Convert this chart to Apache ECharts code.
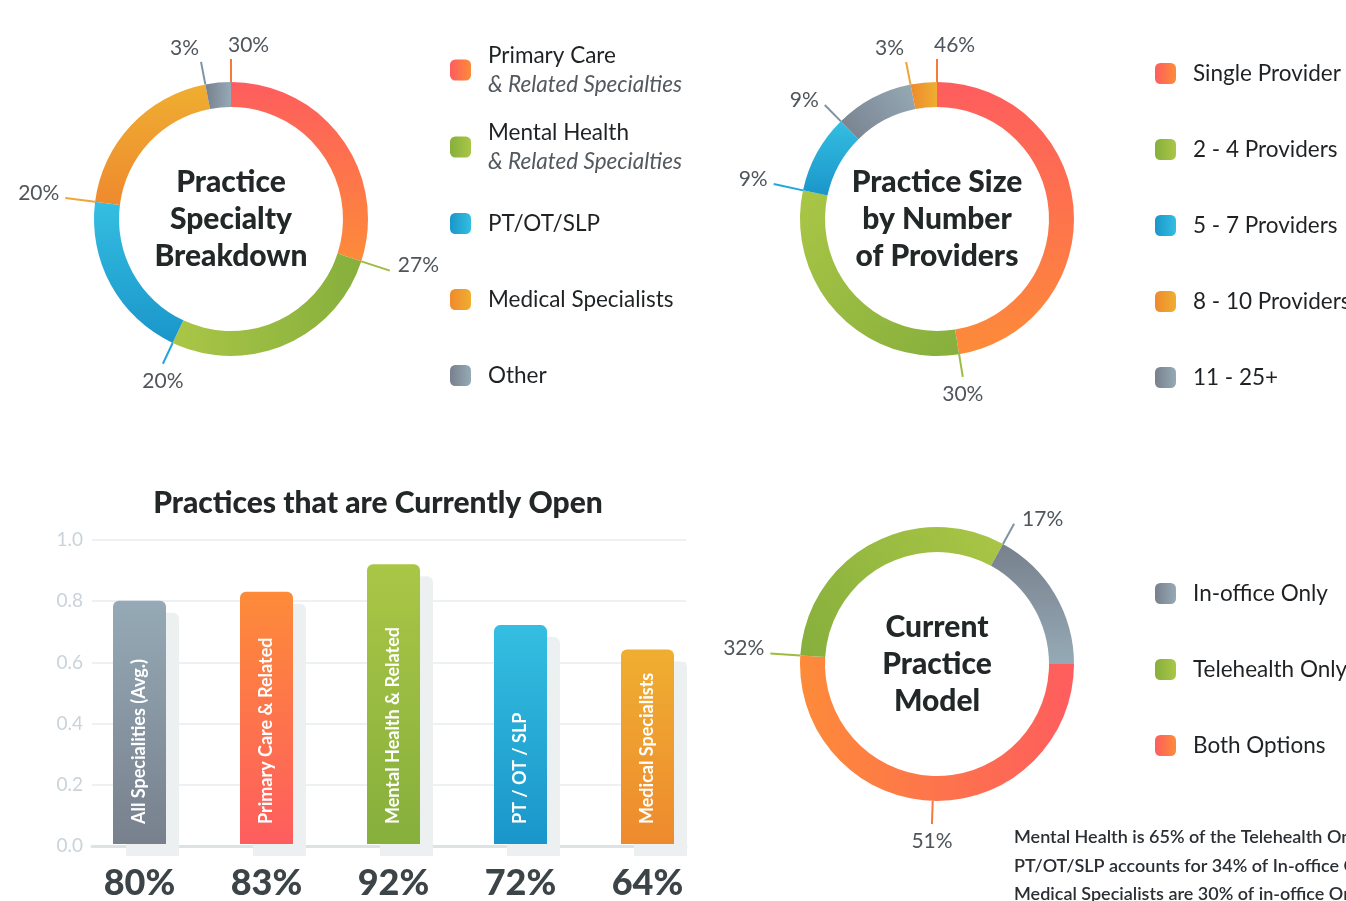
<!DOCTYPE html>
<html>
<head>
<meta charset="utf-8">
<title>Practice survey</title>
<script src="https://cdn.jsdelivr.net/npm/echarts@6/dist/echarts.min.js"></script>
<style>
  html, body { margin: 0; padding: 0; background: #fff; }
  #chart { width: 1346px; height: 901px; }
</style>
</head>
<body>
<div id="chart"></div>
<script>
// ---- data ----
const specialtyNames = ['Primary Care', 'Mental Health', 'PT/OT/SLP', 'Medical Specialists', 'Other'];
const specialtySubs = ['& Related Specialties', '& Related Specialties', '', '', ''];
const specialtyShare = [30, 27, 20, 20, 3];

// ring order (clockwise from top) differs from legend order
const sizeNames = ['Single Provider', '2 - 4 Providers', '5 - 7 Providers', '11 - 25+', '8 - 10 Providers'];
const sizeShare = [46, 30, 9, 9, 3];
const sizeLegend = ['Single Provider', '2 - 4 Providers', '5 - 7 Providers', '8 - 10 Providers', '11 - 25+'];

const modelNames = ['Both Options', 'Telehealth Only', 'In-office Only'];
const modelShare = [51, 32, 17];
const modelLegend = ['In-office Only', 'Telehealth Only', 'Both Options'];

const openCategories = ['All Specialities (Avg.)', 'Primary Care & Related', 'Mental Health & Related', 'PT / OT / SLP', 'Medical Specialists'];
const openShare = [0.80, 0.83, 0.92, 0.72, 0.64];
const yTicks = [0, 0.2, 0.4, 0.6, 0.8, 1.0];

const notes = [
  'Mental Health is 65% of the Telehealth Only',
  'PT/OT/SLP accounts for 34% of In-office Only',
  'Medical Specialists are 30% of in-office Only'
];

// ---- colours: [light, dark, label line] ----
const tones = {
  red:    ['#fe5d5e', '#fd8b39', '#f57a3c'],
  green:  ['#aac646', '#86af3c', '#9cbd40'],
  blue:   ['#34bee1', '#1a96ca', '#20a6d8'],
  orange: ['#efae31', '#ee8a2e', '#eea638'],
  gray:   ['#95aab6', '#78808d', '#7e94a2']
};
const specialtyTones = ['red', 'green', 'blue', 'orange', 'gray'];
const sizeTones = ['red', 'green', 'blue', 'gray', 'orange'];
const modelTones = ['red', 'green', 'gray'];
const openTones = ['gray', 'red', 'green', 'blue', 'orange'];

function grad(tone, d) {
  const t = tones[tone];
  return new echarts.graphic.LinearGradient(d[0], d[1], d[2], d[3], [
    { offset: 0, color: t[0] }, { offset: 1, color: t[1] }
  ]);
}

// legend swatches run left to right
const swatchDir = { red: [0, 0, 1, 0], green: [1, 0, 0, 0], blue: [1, 0, 0, 0], orange: [1, 0, 0, 0], gray: [1, 0, 0, 0] };

// labels sit on the slice edge (at = 0) or part way through it
function edgeLabels(cx, cy, r, startCw, values, at) {
  const total = values.reduce((s, v) => s + v, 0);
  return function (p) {
    const i = p.dataIndex;
    let acc = 0;
    for (let k = 0; k < i; k++) acc += values[k];
    const a = (startCw + (acc + values[i] * at[i]) / total * 360) * Math.PI / 180;
    const dx = Math.sin(a), dy = -Math.cos(a);
    const len = Math.abs(dx) > 0.95 ? 30 : 23;
    const p0 = [cx + dx * r, cy + dy * r];
    const p1 = [cx + dx * (r + len), cy + dy * (r + len)];
    let x, y, align, verticalAlign;
    if (dy < -0.9) {
      align = dx >= -0.05 ? 'left' : 'right';
      x = p1[0] + (align === 'left' ? -3 : -2);
      y = p1[1] - 3;
      verticalAlign = 'bottom';
    } else if (dy > 0.85) {
      align = 'center';
      x = p1[0];
      y = p1[1] + 7;
      verticalAlign = 'top';
    } else {
      align = dx > 0 ? 'left' : 'right';
      x = p1[0] + (dx > 0 ? 8 : -6);
      y = p1[1] - 5;
      verticalAlign = 'middle';
    }
    return { x, y, align, verticalAlign, labelLinePoints: [p0, p1, p1] };
  };
}

function ring(names, values, toneList, dirs, center, startAngle, at) {
  return {
    type: 'pie',
    center: center,
    radius: [112, 137],
    startAngle: startAngle,
    clockwise: true,
    silent: true,
    avoidLabelOverlap: false,
    label: { show: true, position: 'outside', formatter: '{c}%', fontSize: 21, color: '#4f555a' },
    labelLine: { show: true, length: 20, length2: 0, lineStyle: { width: 2 } },
    labelLayout: edgeLabels(center[0], center[1], 137, 90 - startAngle, values, at),
    data: names.map((n, i) => ({
      name: n,
      value: values[i],
      itemStyle: { color: grad(toneList[i], dirs[i]) },
      labelLine: { lineStyle: { color: tones[toneList[i]][2] } }
    }))
  };
}

function legendFor(order, names, toneList, subs, left, top, gap, pad) {
  const txt = { fontSize: 22.5, color: '#1f2224' };
  return {
    orient: 'vertical',
    left: left,
    top: top,
    padding: 0,
    itemGap: gap,
    itemWidth: 21,
    itemHeight: 21,
    icon: 'roundRect',
    selectedMode: false,
    data: order.map(n => {
      const tone = toneList[names.indexOf(n)];
      return { name: n, itemStyle: { color: grad(tone, swatchDir[tone]) } };
    }),
    formatter: n => {
      const i = names.indexOf(n);
      return subs && subs[i] ? '{a|' + n + '}\n{b|' + subs[i] + '}' : '{c|' + n + '}';
    },
    textStyle: {
      rich: {
        a: Object.assign({ padding: [5, 0, 3, 12] }, txt),
        b: Object.assign({ padding: [3, 0, 5, 12] }, txt, { fontStyle: 'italic', color: '#53595e' }),
        c: Object.assign({ lineHeight: 22, padding: [pad, 0, pad, 12] }, txt)
      }
    }
  };
}

const centerText = { fontFamily: 'Lato', fontSize: 30, fontWeight: 900, lineHeight: 37, color: '#222828' };

const chart = echarts.init(document.getElementById('chart'));

chart.setOption({
  animation: false,
  backgroundColor: '#fff',
  textStyle: { fontFamily: 'Lato' },
  title: [
    { text: 'Practice\nSpecialty\nBreakdown', left: 231, top: 219, textAlign: 'center', textVerticalAlign: 'middle', padding: 0, textStyle: centerText },
    { text: 'Practice Size\nby Number\nof Providers', left: 937, top: 219, textAlign: 'center', textVerticalAlign: 'middle', padding: 0, textStyle: centerText },
    { text: 'Current\nPractice\nModel', left: 937, top: 664, textAlign: 'center', textVerticalAlign: 'middle', padding: 0, textStyle: centerText },
    { text: 'Practices that are Currently Open', left: 378, top: 503, textAlign: 'center', textVerticalAlign: 'middle', padding: 0,
      textStyle: { fontFamily: 'Lato', fontSize: 30, fontWeight: 900, color: '#222828' } },
    { text: notes.join('\n'), left: 1014, top: 823, padding: 0,
      textStyle: { fontFamily: 'Lato', fontSize: 18, fontWeight: 600, lineHeight: 28.5, color: '#2b2f33' } }
  ],
  legend: [
    legendFor(specialtyNames, specialtyNames, specialtyTones, specialtySubs, 450, 44, 25, 14),
    legendFor(sizeLegend, sizeNames, sizeTones, null, 1155, 44, 17, 18),
    legendFor(modelLegend, modelNames, modelTones, null, 1155, 564, 17, 18)
  ],
  grid: [
    { left: 92, top: 540, width: 594, height: 306 },
    { left: 76, top: 540, width: 635, height: 306 }
  ],
  xAxis: [
    { gridIndex: 0, type: 'value', min: 0, max: 1,
      axisLine: { show: true, lineStyle: { color: '#dde2e5', width: 3 } },
      axisTick: { show: false }, axisLabel: { show: false }, splitLine: { show: false } },
    { gridIndex: 1, type: 'category', data: openCategories,
      axisLine: { show: false }, axisTick: { show: false },
      axisLabel: { formatter: (v, i) => Math.round(openShare[i] * 100) + '%', fontSize: 36, fontWeight: 900, color: '#3d4448', margin: 21 } }
  ],
  yAxis: [
    { gridIndex: 0, type: 'value', min: yTicks[0], max: yTicks[yTicks.length - 1], interval: yTicks[1] - yTicks[0],
      axisLine: { show: false }, axisTick: { show: false },
      axisLabel: { formatter: v => v.toFixed(1), color: '#c9d3d9', fontSize: 19, margin: 9 },
      splitLine: { lineStyle: { color: '#eef1f3', width: 2 } } },
    { gridIndex: 1, type: 'value', min: yTicks[0], max: yTicks[yTicks.length - 1], show: false }
  ],
  series: [
    ring(specialtyNames, specialtyShare, specialtyTones,
      [[0, 0, 0, 1], [0, 0, 1, 0], [0, 0, 0, 1], [0, 0, 0, 1], [1, 0, 0, 0]],
      [231, 219], 90, [0, 0, 0, 0, 0]),
    ring(sizeNames, sizeShare, sizeTones,
      [[0, 0, 0, 1], [0, 0, 1, 1], [0, 0, 0, 1], [1, 0, 0, 1], [1, 0, 0, 0]],
      [937, 219], 90, [0, 0, 0, 0, 0]),
    ring(modelNames, modelShare, modelTones,
      [[1, 0, 0, 0], [1, 0, 0, 1], [0, 1, 0, 0]],
      [937, 664], 0, [0.5, 0, 0]),
    {
      type: 'bar',
      xAxisIndex: 1,
      yAxisIndex: 1,
      barWidth: 53,
      silent: true,
      data: openShare.map((v, i) => ({
        value: v,
        itemStyle: { color: grad(openTones[i], openTones[i] === 'red' ? [0, 1, 0, 0] : [0, 0, 0, 1]) }
      })),
      itemStyle: { borderRadius: [6, 6, 0, 0], shadowColor: '#edf0f1', shadowOffsetX: 13, shadowOffsetY: 12, shadowBlur: 0 },
      label: {
        show: true, position: 'insideBottom', rotate: 90, align: 'left', verticalAlign: 'middle',
        distance: 20, formatter: '{b}', color: '#fff', fontSize: 18, fontWeight: 'bold'
      }
    }
  ]
});
</script>
</body>
</html>
